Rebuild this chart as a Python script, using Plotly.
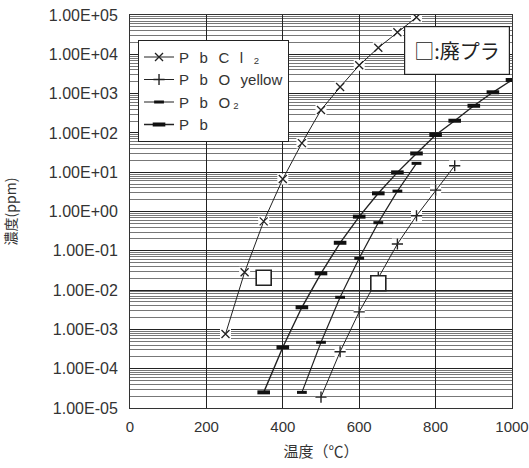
import plotly.graph_objects as go

# ---- data ----
pbcl2_x = [250, 300, 350, 400, 450, 500, 550, 600, 650, 700, 750]
pbcl2_y = [7.6e-4, 0.0284, 0.56, 6.7, 55, 383, 1470, 5250, 14700, 36300, 87600]

pbo_x = [500, 550, 600, 650, 700, 750, 800, 850]
pbo_y = [1.9e-5, 2.7e-4, 0.0028, 0.021, 0.149, 0.78, 3.5, 14.6]

pbo2_x = [450, 500, 550, 600, 650, 700, 750]
pbo2_y = [2.5e-5, 4.7e-4, 0.00656, 0.0645, 0.52, 3.3, 16.8]

pb_x = [350, 400, 450, 500, 550, 600, 650, 700, 750, 800, 850, 900, 950, 1000]
pb_y = [2.5e-5, 3.5e-4, 0.00365, 0.0267, 0.16, 0.74, 2.9, 9.9, 30, 88.5, 204, 490, 1080, 2220]

waste_x = [350, 650]
waste_y = [0.0207, 0.0149]

y_tick_vals = [1e-5, 1e-4, 1e-3, 1e-2, 1e-1, 1e0, 1e1, 1e2, 1e3, 1e4, 1e5]
y_tick_text = ["1.00E-05", "1.00E-04", "1.00E-03", "1.00E-02", "1.00E-01",
               "1.00E+00", "1.00E+01", "1.00E+02", "1.00E+03", "1.00E+04", "1.00E+05"]
x_tick_vals = [0, 200, 400, 600, 800, 1000]

minor_vals = [m * 10 ** k for k in range(-5, 5) for m in range(2, 10)]

FONT = "Liberation Sans, Arial, sans-serif"
JP = "Noto Sans CJK JP, sans-serif"
SP = "\u2002\u2009"

fig = go.Figure()

# white backing boxes behind markers (break the grid like the reference)
for xs, ys in [(pbcl2_x, pbcl2_y), (pbo_x, pbo_y)]:
    fig.add_trace(go.Scatter(x=xs, y=ys, mode="markers", showlegend=False, hoverinfo="skip",
                             marker=dict(symbol="square", size=11, color="white",
                                         line=dict(width=0))))

fig.add_trace(go.Scatter(
    x=pbcl2_x, y=pbcl2_y, mode="lines+markers",
    name=f"P{SP}b{SP}C{SP}l{SP}\u2082",
    line=dict(color="#222", width=1),
    marker=dict(symbol="x-thin", size=8, color="#222", line=dict(width=1.3, color="#222"))))
fig.add_trace(go.Scatter(
    x=pbo_x, y=pbo_y, mode="lines+markers", name=f"P{SP}b{SP}O{SP}yellow",
    line=dict(color="#222", width=1),
    marker=dict(symbol="cross-thin", size=8, color="#222", line=dict(width=1.4, color="#222"))))
fig.add_trace(go.Scatter(
    x=pbo2_x, y=pbo2_y, mode="lines+markers", name=f"P{SP}b{SP}O\u2009\u2082",
    line=dict(color="#222", width=1.2),
    marker=dict(symbol="line-ew", size=7, color="#111", line=dict(width=3, color="#111"))))
fig.add_trace(go.Scatter(
    x=pb_x, y=pb_y, mode="lines+markers", name=f"P{SP}b",
    line=dict(color="#222", width=1.4),
    marker=dict(symbol="line-ew", size=9, color="#111", line=dict(width=4, color="#111"))))

fig.add_trace(go.Scatter(
    x=waste_x, y=waste_y, mode="markers", showlegend=False, name="廃プラ",
    marker=dict(symbol="square", size=15, color="white", line=dict(width=1.6, color="#222"))))

fig.update_layout(
    width=529, height=468,
    margin=dict(l=130, r=17, t=15, b=60, autoexpand=False),
    paper_bgcolor="white", plot_bgcolor="white",
    font=dict(family=FONT, size=14, color="#333"),
    legend=dict(x=0.021, y=0.937, xanchor="left", yanchor="top",
                bgcolor="white", bordercolor="#222", borderwidth=1,
                font=dict(family=FONT, size=15, color="#333"),
                tracegroupgap=0, itemwidth=30),
    xaxis=dict(range=[0, 1000], tickvals=x_tick_vals, showgrid=True, automargin=False,
               gridcolor="#222", gridwidth=1, showline=True, linecolor="#333",
               linewidth=1, mirror=True, ticks="", zeroline=False,
               tickfont=dict(size=15, color="#333"), ticklabelstandoff=5,
               ticklabeloverflow="allow",
               title=dict(text="温度（℃）", font=dict(family=JP, size=15, color="#333"),
                          standoff=12)),
    yaxis=dict(type="log", range=[-5, 5], tickvals=y_tick_vals, ticktext=y_tick_text,
               automargin=False, ticklabeloverflow="allow",
               showgrid=True, gridcolor="#222", gridwidth=1, showline=True,
               linecolor="#333", linewidth=1, mirror=True, ticks="", zeroline=False,
               tickfont=dict(size=16, color="#333"), ticklabelstandoff=8,
               minor=dict(tickvals=minor_vals, showgrid=True, gridcolor="#777",
                          gridwidth=1, ticks=""),
               title=dict(text="濃度(ppm)", font=dict(family=JP, size=14, color="#333"),
                          standoff=36)),
    annotations=[dict(
        x=0.855, y=0.91, xref="paper", yref="paper", xanchor="center", yanchor="middle",
        text="□:廃プラ", showarrow=False, font=dict(family=JP, size=20, color="#222"),
        bordercolor="#222", borderwidth=1.2, borderpad=9, bgcolor="white")],
)

fig.write_html("out.html", config={"displayModeBar": False},
               post_script="document.body.style.margin='0px';")
